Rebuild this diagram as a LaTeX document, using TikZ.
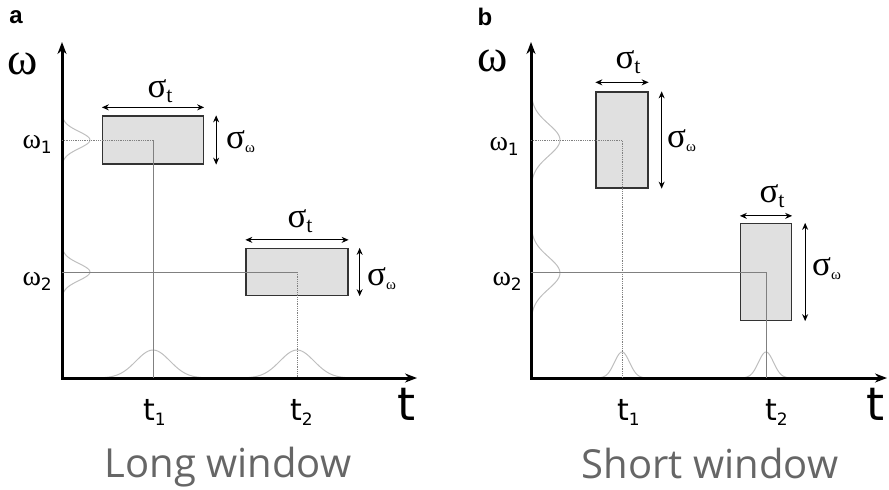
\documentclass[tikz,border=0pt]{standalone}
\usepackage{fontspec}
\setmainfont{DejaVu Sans}
\newfontfamily\grk{Liberation Serif}
\newfontfamily\hand{Open Sans}
\newfontfamily\panelfont{Liberation Sans}
\usetikzlibrary{arrows.meta}

\begin{document}
\begin{tikzpicture}[x=1pt, y=-1pt,
    axis/.style={line width=3pt, line join=miter, {Stealth[length=12pt,width=9pt]}-{Stealth[length=12pt,width=9pt]}},
    win/.style={draw=black!80, fill=black!12, line width=1.3pt, inner sep=0pt},
    span/.style={line width=1.2pt, {Stealth[length=7pt,width=6pt]}-{Stealth[length=7pt,width=6pt]}},
    guide/.style={draw=black!50, line width=0.8pt},
    bell/.style={draw=black!25, line width=1pt, smooth},
    big/.style={font=\fontsize{46}{46}\selectfont, inner sep=0pt},
    tick/.style={font=\fontsize{30}{30}\selectfont, inner sep=0pt, anchor=base west},
    wlab/.style={font=\fontsize{28}{28}\selectfont, inner sep=0pt, anchor=base east},
    sig/.style={font=\fontsize{35}{35}\selectfont, inner sep=0pt},
    caption/.style={font=\hand\fontsize{40}{40}\selectfont, text=black!60, inner sep=0pt, anchor=base},
    panel/.style={font=\panelfont\bfseries\fontsize{24}{24}\selectfont, inner sep=0pt}]
    \useasboundingbox (0,0) rectangle (889,490);

    % Panel a: long window
    \node[panel] (pa) at (16,17) {a};
    \coordinate (oA) at (62,378);
    \coordinate (wA) at (62,42);
    \coordinate (tA) at (417,378);
    \draw[bell] plot[domain=103:203, samples=50] (\x, {378-28*exp(-((\x-153)/17)^2/2)});
    \draw[bell] plot[domain=247:347, samples=50] (\x, {378-28*exp(-((\x-297)/17)^2/2)});
    \draw[bell] plot[domain=113:167, samples=40] ({62+28*exp(-((\x-140)/8.5)^2/2)}, \x);
    \draw[bell] plot[domain=245:299, samples=40] ({62+28*exp(-((\x-272)/8.5)^2/2)}, \x);
    \draw[axis] (wA) |- (tA);
    \node[big] (wa) at (23,64) {\grk ω};
    \node[big, anchor=base west] (ta) at (397,420) {t};

    \node[win, minimum width=101pt, minimum height=48pt] (boxA1) at (153,140) {};
    \node[win, minimum width=102pt, minimum height=47pt] (boxA2) at (297,272) {};
    \draw[guide, densely dotted] (oA |- boxA1.center) -- (boxA1.center);
    \draw[guide] (boxA1.center) -- (oA -| boxA1.center);
    \draw[guide] (oA |- boxA2.center) -- (boxA2.center);
    \draw[guide, densely dotted] (boxA2.center) -- (oA -| boxA2.center);
    \draw[span] ([yshift=8pt]boxA1.north west) -- ([yshift=8pt]boxA1.north east);
    \draw[span] ([xshift=12pt]boxA1.north east) -- ([xshift=12pt]boxA1.south east);
    \draw[span] ([yshift=8pt]boxA2.north west) -- ([yshift=8pt]boxA2.north east);
    \draw[span] ([xshift=11pt]boxA2.north east) -- ([xshift=11pt]boxA2.south east);
    \node[sig, anchor=base] (sta1) at (160,97) {\grk σ\fontsize{22}{22}\selectfont\raisebox{-5pt}{t}};
    \node[sig, anchor=base west] (swa1) at (226,148) {\grk σ\fontsize{15}{15}\selectfont\raisebox{-4pt}{ω}};
    \node[sig, anchor=base] (sta2) at (300,227) {\grk σ\fontsize{22}{22}\selectfont\raisebox{-5pt}{t}};
    \node[sig, anchor=base west] (swa2) at (367,285) {\grk σ\fontsize{15}{15}\selectfont\raisebox{-4pt}{ω}};
    \node[wlab] (w1a) at (52,148) {\grk ω\fontsize{17}{17}\selectfont\raisebox{-5pt}{\rmfamily 1}};
    \node[wlab] (w2a) at (52,285) {\grk ω\fontsize{17}{17}\selectfont\raisebox{-5pt}{\rmfamily 2}};
    \node[tick] (t1a) at (143,420) {t\fontsize{17}{17}\selectfont\raisebox{-5pt}{1}};
    \node[tick] (t2a) at (290,420) {t\fontsize{17}{17}\selectfont\raisebox{-5pt}{2}};
    \node[caption] (capa) at (228,477) {Long window};

    % Panel b: short window
    \node[panel] (pb) at (485,17) {b};
    \coordinate (oB) at (531,378);
    \coordinate (wB) at (531,42);
    \coordinate (tB) at (887,378);
    \draw[bell] plot[domain=600:644, samples=40] (\x, {378-26*exp(-((\x-622)/7.5)^2/2)});
    \draw[bell] plot[domain=744:788, samples=40] (\x, {378-26*exp(-((\x-766)/7.5)^2/2)});
    \draw[bell] plot[domain=88:192, samples=50] ({531+29*exp(-((\x-140)/16)^2/2)}, \x);
    \draw[bell] plot[domain=221:325, samples=50] ({531+29*exp(-((\x-273)/16)^2/2)}, \x);
    \draw[axis] (wB) |- (tB);
    \node[big] (wb) at (493,61) {\grk ω};
    \node[big, anchor=base west] (tb) at (866,420) {t};

    \node[win, minimum width=52pt, minimum height=96pt] (boxB1) at (622,140) {};
    \node[win, minimum width=51pt, minimum height=97pt] (boxB2) at (766,272) {};
    \draw[guide, densely dotted] (oB |- boxB1.center) -- (boxB1.center) -- (oB -| boxB1.center);
    \draw[guide] (oB |- boxB2.center) -- (boxB2.center) -- (oB -| boxB2.center);
    \draw[span] ([yshift=9pt]boxB1.north west) -- ([yshift=9pt]boxB1.north east);
    \draw[span] ([xshift=13pt]boxB1.north east) -- ([xshift=13pt]boxB1.south east);
    \draw[span] ([yshift=7pt]boxB2.north west) -- ([yshift=7pt]boxB2.north east);
    \draw[span] ([xshift=13pt]boxB2.north east) -- ([xshift=13pt]boxB2.south east);
    \node[sig, anchor=base] (stb1) at (628,68) {\grk σ\fontsize{22}{22}\selectfont\raisebox{-5pt}{t}};
    \node[sig, anchor=base west] (swb1) at (667,147) {\grk σ\fontsize{15}{15}\selectfont\raisebox{-4pt}{ω}};
    \node[sig, anchor=base] (stb2) at (772,202) {\grk σ\fontsize{22}{22}\selectfont\raisebox{-5pt}{t}};
    \node[sig, anchor=base west] (swb2) at (812,275) {\grk σ\fontsize{15}{15}\selectfont\raisebox{-4pt}{ω}};
    \node[wlab] (w1b) at (519,150) {\grk ω\fontsize{17}{17}\selectfont\raisebox{-5pt}{\rmfamily 1}};
    \node[wlab] (w2b) at (522,285) {\grk ω\fontsize{17}{17}\selectfont\raisebox{-5pt}{\rmfamily 2}};
    \node[tick] (t1b) at (617,420) {t\fontsize{17}{17}\selectfont\raisebox{-5pt}{1}};
    \node[tick] (t2b) at (765,420) {t\fontsize{17}{17}\selectfont\raisebox{-5pt}{2}};
    \node[caption] (capb) at (710,478) {Short window};
\end{tikzpicture}
\end{document}
